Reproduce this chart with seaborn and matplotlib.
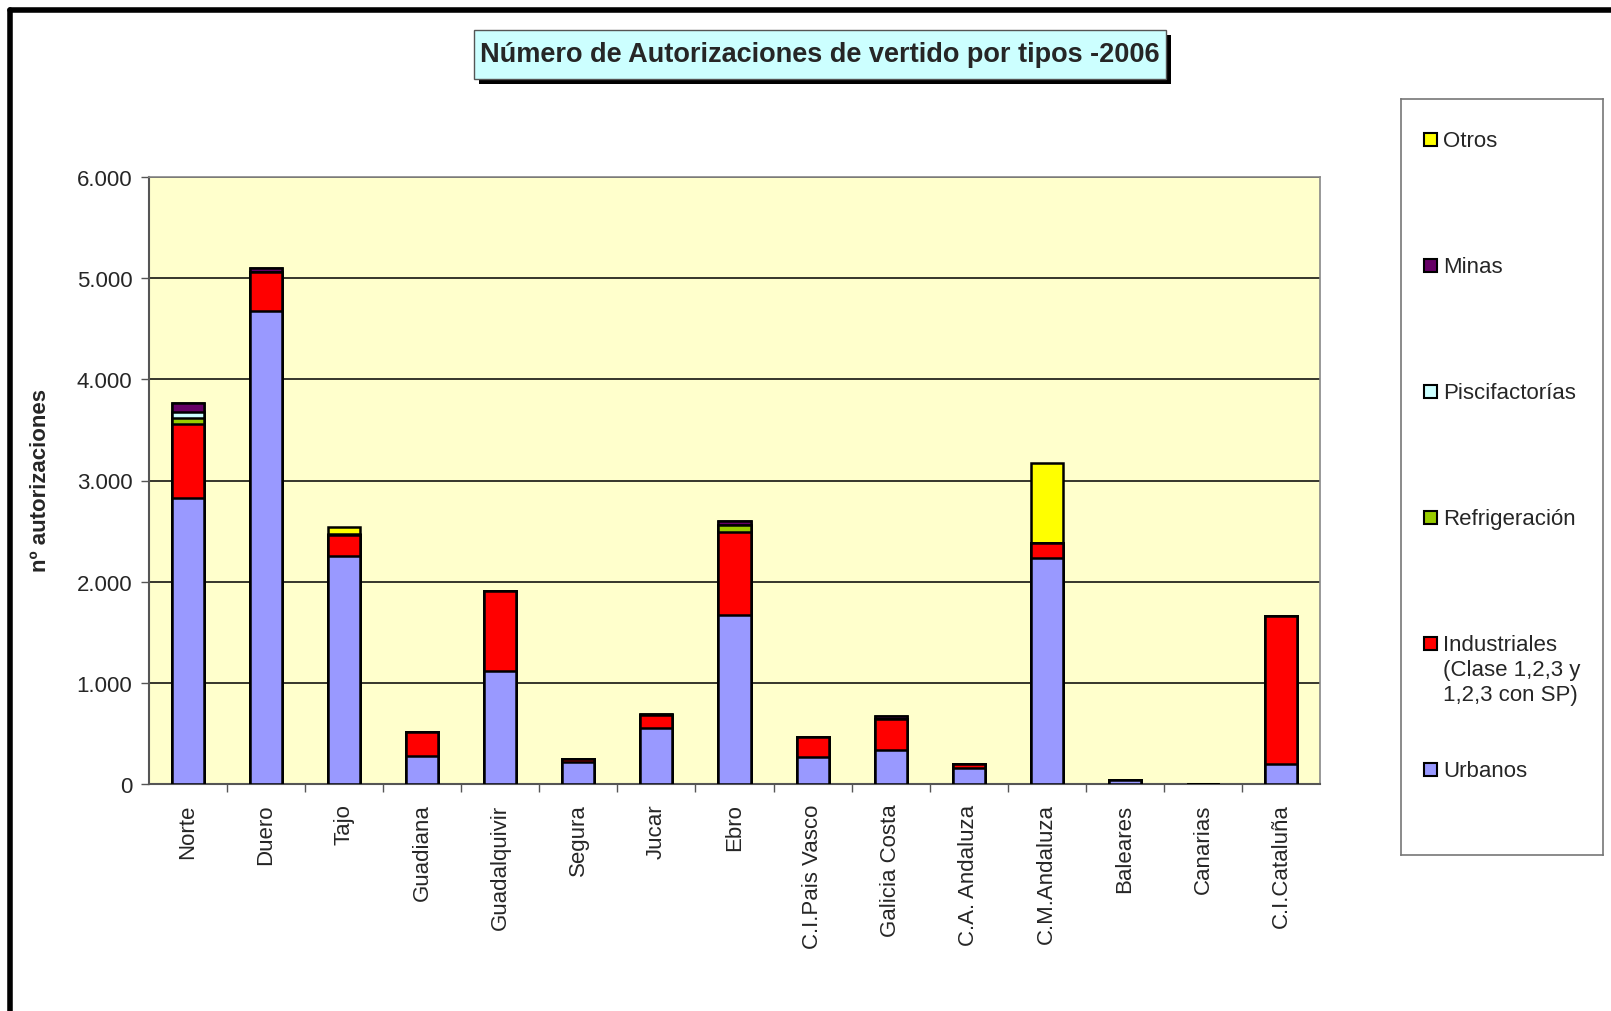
import numpy as np
import pandas as pd
import matplotlib.pyplot as plt
import seaborn as sns
from matplotlib.patches import Rectangle
from matplotlib.lines import Line2D
from matplotlib.ticker import FuncFormatter, FixedLocator

# Datos
cuencas = ["Norte", "Duero", "Tajo", "Guadiana", "Guadalquivir", "Segura", "Jucar",
           "Ebro", "C.I.Pais Vasco", "Galicia Costa", "C.A. Andaluza", "C.M.Andaluza",
           "Baleares", "Canarias", "C.I.Cataluña"]
urbanos        = [2825, 4680, 2250, 275, 1115, 215, 550, 1670, 270, 340, 155, 2235, 40, 0, 200]
industriales   = [730, 385, 210, 240, 790, 30, 130, 825, 195, 300, 40, 150, 0, 0, 1465]
refrigeracion  = [65, 0, 0, 0, 0, 0, 0, 70, 0, 0, 0, 0, 0, 0, 0]
piscifactorias = [60, 0, 0, 0, 0, 0, 0, 0, 0, 0, 0, 0, 0, 0, 0]
minas          = [85, 40, 15, 0, 0, 5, 10, 30, 0, 30, 0, 0, 0, 0, 0]
otros          = [0, 0, 65, 0, 0, 0, 0, 0, 0, 0, 0, 785, 0, 0, 0]

series = ["Urbanos", "Industriales\n(Clase 1,2,3 y\n1,2,3 con SP)", "Refrigeración",
          "Piscifactorías", "Minas", "Otros"]
valores = [urbanos, industriales, refrigeracion, piscifactorias, minas, otros]
colores = ["#9999FF", "#FF0000", "#99CC00", "#CCFFFF", "#660066", "#FFFF00"]

sns.set_style("white")
plt.rcParams['font.family'] = ['Liberation Sans', 'DejaVu Sans']

W, H = 1611, 1012
fig = plt.figure(figsize=(W / 100, H / 100), dpi=100)
fig.patch.set_facecolor("white")

def fx(px):
    return px / W

def fy(py):
    return 1 - py / H

ax = fig.add_axes([fx(149), fy(785), fx(1320) - fx(149), fy(178) - fy(785)])
ax.set_facecolor("#FFFFCC")

# barras apiladas: se dibujan los acumulados de arriba hacia abajo
acum = np.cumsum(np.array(valores), axis=0)
for i in range(len(series) - 1, -1, -1):
    df = pd.DataFrame({"cuenca": cuencas, "valor": acum[i]})
    sns.barplot(data=df, x="cuenca", y="valor", color=colores[i], saturation=1,
                width=0.41, edgecolor="black", linewidth=1.8, ax=ax, zorder=3)

ax.set_xlim(-0.5, len(cuencas) - 0.5)
ax.set_ylim(0, 6000)
ax.set_yticks(np.arange(0, 6001, 1000))
ax.yaxis.set_major_formatter(FuncFormatter(lambda v, p: f"{int(v):,}".replace(",", ".")))
ax.yaxis.grid(True, color="black", linewidth=1.1, zorder=0)
ax.set_axisbelow(True)
ax.tick_params(axis="y", which="major", direction="out", length=6, width=1,
               color="#555555", labelsize=16, pad=6, left=True)

ax.set_xticks(range(len(cuencas)))
ax.set_xticklabels(cuencas, rotation=90, fontsize=16, va="top")
ax.tick_params(axis="x", which="major", length=0, pad=14)
ax.xaxis.set_minor_locator(FixedLocator(np.arange(0.5, len(cuencas) - 0.5, 1)))
ax.tick_params(axis="x", which="minor", direction="out", length=6, width=1,
               color="#555555", bottom=True)
ax.set_xlabel("")
ax.set_ylabel("")

for s in ["top", "right"]:
    ax.spines[s].set_color("#888888")
    ax.spines[s].set_linewidth(1.2)
for s in ["left", "bottom"]:
    ax.spines[s].set_color("#555555")
    ax.spines[s].set_linewidth(1.5)

fig.text(fx(41), fy(481), "nº autorizaciones", rotation=90, fontsize=16,
         fontweight="bold", ha="center", va="center")

# titulo con caja y sombra
fig.patches.append(Rectangle((fx(479), fy(85)), fx(692), fy(31) - fy(80),
                             transform=fig.transFigure, facecolor="black",
                             edgecolor="none", zorder=1))
fig.patches.append(Rectangle((fx(474), fy(80)), fx(692), fy(31) - fy(80),
                             transform=fig.transFigure, facecolor="#CCFFFF",
                             edgecolor="#555555", linewidth=1, zorder=2))
fig.text(fx(820), fy(55), "Número de Autorizaciones de vertido por tipos -2006",
         fontsize=19.5, fontweight="bold", ha="center", va="center", zorder=3)

# marco de la pagina
fig.add_artist(Line2D([fx(10), 1], [fy(11), fy(11)], color="black", linewidth=4))
fig.add_artist(Line2D([fx(10), fx(10)], [fy(11), 0], color="black", linewidth=4))

# leyenda
lg = fig.add_axes([fx(1401), fy(856), fx(1603) - fx(1401), fy(100) - fy(856)])
lg.set_xlim(0, 202)
lg.set_ylim(756, 0)
lg.set_xticks([])
lg.set_yticks([])
lg.set_facecolor("white")
for s in lg.spines.values():
    s.set_color("#777777")
    s.set_linewidth(1.2)
posiciones = [670, 544, 418, 292, 166, 40]
for nombre, col, yc in zip(series, colores, posiciones):
    lg.add_patch(Rectangle((23, yc - 6.5), 13, 13, facecolor=col, edgecolor="black",
                           linewidth=1.5))
    lg.text(42, yc - 9, nombre, fontsize=16, ha="left", va="top", linespacing=1.25)

fig.savefig("out.png", dpi=100)
